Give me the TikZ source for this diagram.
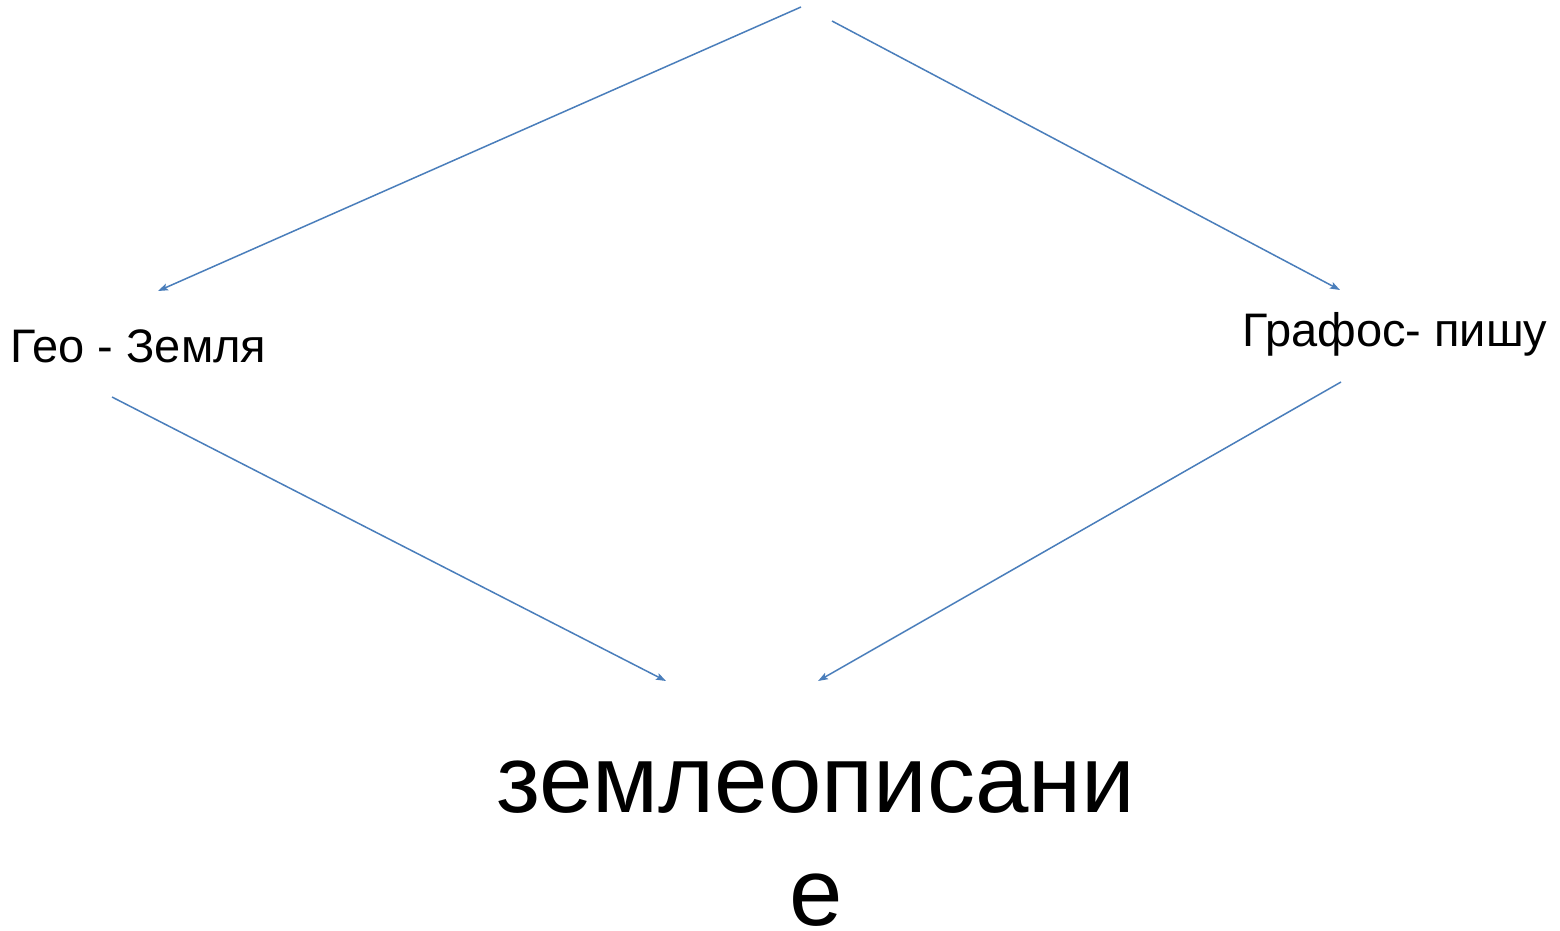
\documentclass[tikz,border=0pt]{standalone}
\usepackage{fontspec}
\setmainfont{Liberation Sans}
\usetikzlibrary{arrows.meta}
\definecolor{arrowblue}{RGB}{74,126,187}
\tikzset{
  conn/.style={draw=arrowblue, line width=1.5pt, -{Stealth[length=10pt,width=7pt,inset=2pt]}},
  lbl/.style={inner sep=0pt, font=\fontsize{47}{56}\selectfont},
  bigword/.style={inner sep=0pt, align=center, font=\fontsize{96}{113}\selectfont}
}
\begin{document}
\begin{tikzpicture}[x=1pt,y=-1pt]
\useasboundingbox[fill=white] (0,0) rectangle (1560,930);
\node[lbl, anchor=base west] (geo) at (10,362) {Гео - Земля};
\node[lbl, anchor=base west] (grafos) at (1242,346) {Графос- пишу};
\node[bigword, anchor=base] (word) at (816,925) {землеописани\\е};
\coordinate (topL) at (801,7);
\coordinate (topR) at (832,21);
\coordinate (geoIn) at (158,291);
\coordinate (grafIn) at (1340,290);
\coordinate (geoOut) at (112,397);
\coordinate (grafOut) at (1341,382);
\coordinate (wordInL) at (666,681);
\coordinate (wordInR) at (818,681);
\draw[conn] (topL) -- (geoIn);
\draw[conn] (topR) -- (grafIn);
\draw[conn] (geoOut) -- (wordInL);
\draw[conn] (grafOut) -- (wordInR);
\end{tikzpicture}
\end{document}
